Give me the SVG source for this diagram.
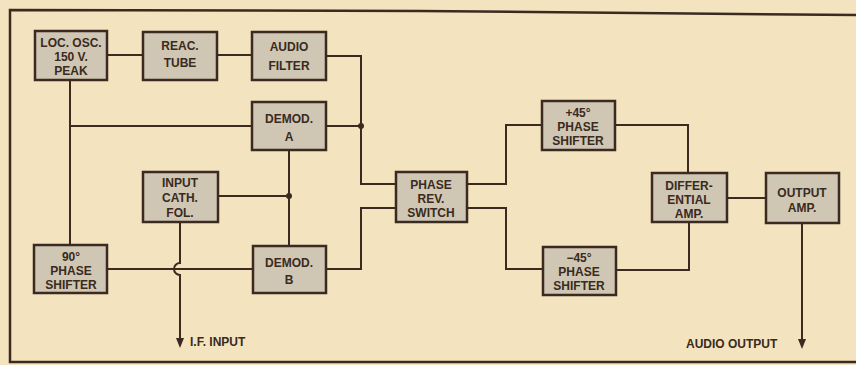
<svg xmlns="http://www.w3.org/2000/svg" width="856" height="365" viewBox="0 0 856 365">
<defs>
<style>
.bg{fill:#f3e3bf}
.box rect{fill:#cfc6b3;stroke:#3a2a20;stroke-width:2.5}
.box text,.lbl{font-family:"Liberation Sans",Arial,sans-serif;font-weight:bold;font-size:12px;fill:#3a2a20;text-anchor:middle}
.lbl{font-size:12px;text-anchor:start}
.w{fill:none;stroke:#3a2a20;stroke-width:2}
.frame{fill:none;stroke:#3a2a20;stroke-width:2.5}
.dot,.ah{fill:#3a2a20}
</style>
</defs>
<rect class="bg" x="0" y="0" width="856" height="365"/>
<path class="frame" d="M856,15 L420,11 L10,10 L10,362 L856,362"/>

<g id="connectors">
<path class="w" d="M107,55 H143"/>
<path class="w" d="M217,55 H252"/>
<path class="w" d="M326,56 H361 V184 H396"/>
<path class="w" d="M326,126 H361"/>
<path class="w" d="M70,80 V245"/>
<path class="w" d="M70,126 H252"/>
<path class="w" d="M289,150 V246"/>
<path class="w" d="M218,196 H289"/>
<path class="w" d="M107,269 H253"/>
<path class="w" d="M180,222 V263 A6,6 0 0 0 180,275 V340"/>
<polygon class="ah" points="176,338 184,338 180,348"/>
<path class="w" d="M326,269 H361 V208 H396"/>
<path class="w" d="M467,184 H506 V125 H542"/>
<path class="w" d="M467,208 H506 V269 H543"/>
<path class="w" d="M615,125 H688 V173"/>
<path class="w" d="M616,270 H689 V222"/>
<path class="w" d="M727,198 H766"/>
<path class="w" d="M802,223 V341"/>
<polygon class="ah" points="798,339 806,339 802,349"/>
<circle class="dot" cx="361" cy="126" r="3"/>
<circle class="dot" cx="289" cy="196" r="3"/>
</g>

<g id="loc-osc" class="box"><rect x="35" y="31" width="72" height="49"/>
<text x="71" y="47">LOC. OSC.</text><text x="71" y="61">150 V.</text><text x="71" y="75">PEAK</text></g>
<g id="reac-tube" class="box"><rect x="143" y="32" width="74" height="48"/>
<text x="180" y="50">REAC.</text><text x="180" y="67">TUBE</text></g>
<g id="audio-filter" class="box"><rect x="252" y="32" width="74" height="48"/>
<text x="289" y="51">AUDIO</text><text x="289" y="70">FILTER</text></g>
<g id="demod-a" class="box"><rect x="252" y="102" width="74" height="48"/>
<text x="289" y="123">DEMOD.</text><text x="289" y="141">A</text></g>
<g id="input-cath-fol" class="box"><rect x="143" y="172" width="75" height="50"/>
<text x="180" y="187">INPUT</text><text x="180" y="202">CATH.</text><text x="180" y="217">FOL.</text></g>
<g id="phase-shifter-90" class="box"><rect x="34" y="245" width="73" height="48"/>
<text x="71" y="261">90°</text><text x="71" y="275">PHASE</text><text x="71" y="289">SHIFTER</text></g>
<g id="demod-b" class="box"><rect x="253" y="246" width="73" height="47"/>
<text x="289" y="267">DEMOD.</text><text x="289" y="284">B</text></g>
<g id="phase-rev-switch" class="box"><rect x="396" y="172" width="71" height="50"/>
<text x="431" y="189">PHASE</text><text x="431" y="203">REV.</text><text x="431" y="217">SWITCH</text></g>
<g id="phase-shifter-plus45" class="box"><rect x="542" y="101" width="73" height="49"/>
<text x="578" y="117">+45°</text><text x="578" y="131">PHASE</text><text x="578" y="145">SHIFTER</text></g>
<g id="phase-shifter-minus45" class="box"><rect x="543" y="247" width="73" height="48"/>
<text x="579" y="262">−45°</text><text x="579" y="276">PHASE</text><text x="579" y="290">SHIFTER</text></g>
<g id="differential-amp" class="box"><rect x="652" y="173" width="75" height="49"/>
<text x="689" y="190">DIFFER-</text><text x="689" y="204">ENTIAL</text><text x="689" y="218">AMP.</text></g>
<g id="output-amp" class="box"><rect x="766" y="173" width="73" height="50"/>
<text x="802" y="197">OUTPUT</text><text x="802" y="212">AMP.</text></g>

<text class="lbl" x="190" y="346">I.F. INPUT</text>
<text class="lbl" x="686" y="348">AUDIO OUTPUT</text>
</svg>
